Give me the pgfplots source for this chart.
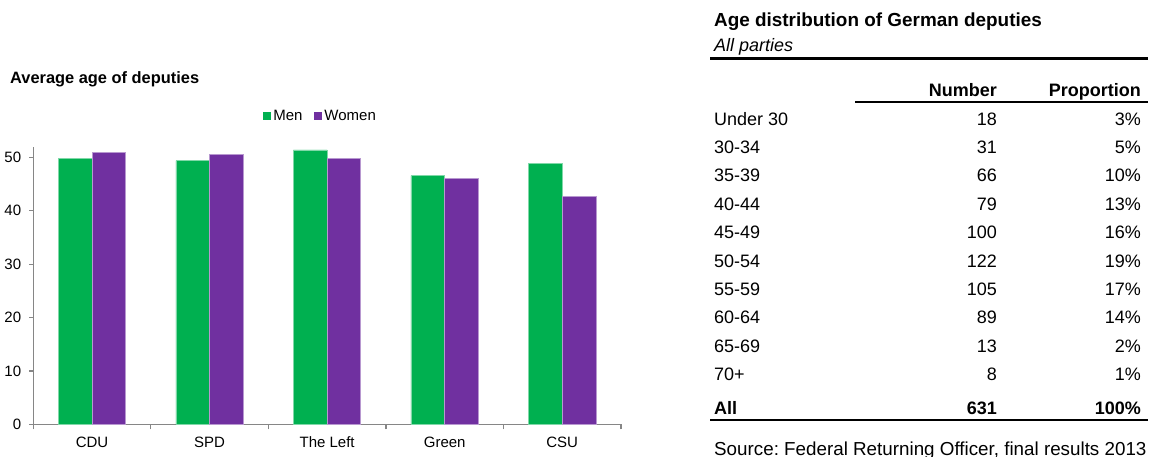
\documentclass[border=0pt]{standalone}
\usepackage{fontspec}
\setmainfont{Liberation Sans}
\usepackage{pgfplots}
\pgfplotsset{compat=1.18}
\definecolor{mgreen}{HTML}{00B050}
\definecolor{mpurple}{HTML}{7030A0}
\definecolor{lgreen}{HTML}{80D8A8}
\definecolor{lpurple}{HTML}{B898D0}
\definecolor{axgray}{HTML}{868686}
\newcommand{\cf}{\fontsize{15bp}{18bp}\selectfont}
\newcommand{\tf}{\fontsize{18bp}{21bp}\selectfont}
\frenchspacing
\begin{document}
\begin{tikzpicture}
\useasboundingbox (0,0) rectangle (1152bp,-457bp);
\begin{axis}[
  at={(33.3bp,-424.3bp)}, anchor=south west,
  scale only axis, width=587.7bp, height=277.6bp,
  ybar=0pt, bar width=33.7bp,
  xmin=-0.5, xmax=4.5, ymin=0, ymax=52,
  axis x line*=bottom, axis y line*=left,
  axis line style={axgray, line width=1.5bp},
  ytick={0,10,20,30,40,50},
  xtick={0,1,2,3,4},
  xticklabels={CDU,SPD,The Left,Green,CSU},
  minor xtick={-0.5,0.5,1.5,2.5,3.5,4.5},
  major x tick style={draw=none},
  minor x tick style={axgray, line width=1.2bp},
  y tick style={axgray, line width=1.2bp},
  tick align=outside,
  major tick length=4bp, minor tick length=5bp,
  tick label style={font=\cf, text=black},
  /pgf/number format/assume math mode=true,
  yticklabel style={inner sep=0pt, xshift=-8bp},
  xticklabel style={inner sep=0pt, yshift=-8bp, text height=11bp, text depth=3bp},
  legend style={at={(0.391,1.1106)}, anchor=west, draw=none, fill=none,
    font=\cf, inner sep=0pt, column sep=0pt,
    nodes={inner sep=0pt},
    /tikz/every even column/.append style={column sep=12bp},
    /tikz/every odd column/.append style={column sep=2bp}},
  legend columns=2,
  legend image code/.code={\fill[#1,draw=none] (0bp,-4bp) rectangle (8bp,4bp);},
  clip=false,
]
\addplot[fill=mgreen, draw=lgreen, line width=0.8bp] coordinates {(0,49.8) (1,49.4) (2,51.4) (3,46.6) (4,48.9)};
\addplot[fill=mpurple, draw=lpurple, line width=0.8bp] coordinates {(0,51.0) (1,50.6) (2,49.8) (3,46.1) (4,42.7)};
\legend{Men,Women}
\end{axis}
\node[anchor=base west, inner sep=0pt, font={\fontsize{16.4bp}{19bp}\selectfont\bfseries}] at (10bp,-83.3bp) {Average age of deputies};
% table
\node[anchor=base west, inner sep=0pt, font={\fontsize{18.9bp}{22bp}\selectfont\bfseries}] at (714bp,-26bp) {Age distribution of German deputies};
\node[anchor=base west, inner sep=0pt, font=\tf\itshape] at (714bp,-51.7bp) {All parties};
\draw[line width=2.5bp] (710bp,-58.3bp) -- (1148bp,-58.3bp);
\node[anchor=base east, inner sep=0pt, font=\tf\bfseries] at (997bp,-96.7bp) {Number};
\node[anchor=base east, inner sep=0pt, font=\tf\bfseries] at (1141bp,-96.7bp) {Proportion};
\draw[line width=2bp] (855bp,-101.7bp) -- (1148bp,-101.7bp);
\foreach \lab/\num/\pct [count=\i from 0] in {Under 30/18/3,30-34/31/5,35-39/66/10,40-44/79/13,45-49/100/16,50-54/122/19,55-59/105/17,60-64/89/14,65-69/13/2,70+/8/1}{
  \node[anchor=base west, inner sep=0pt, font=\tf] at (714bp,{-125bp-28.4bp*\i}) {\lab};
  \node[anchor=base east, inner sep=0pt, font=\tf] at (997bp,{-125bp-28.4bp*\i}) {\num};
  \node[anchor=base east, inner sep=0pt, font=\tf] at (1141bp,{-125bp-28.4bp*\i}) {\pct\%};
}
\node[anchor=base west, inner sep=0pt, font=\tf\bfseries] at (714bp,-414bp) {All};
\node[anchor=base east, inner sep=0pt, font=\tf\bfseries] at (997bp,-414bp) {631};
\node[anchor=base east, inner sep=0pt, font=\tf\bfseries] at (1141bp,-414bp) {100\%};
\draw[line width=2.5bp] (710bp,-420bp) -- (1148bp,-420bp);
\node[anchor=base west, inner sep=0pt, font={\fontsize{18.8bp}{22bp}\selectfont}] at (714bp,-455bp) {Source: Federal Returning Officer, final results 2013};
\end{tikzpicture}
\end{document}
